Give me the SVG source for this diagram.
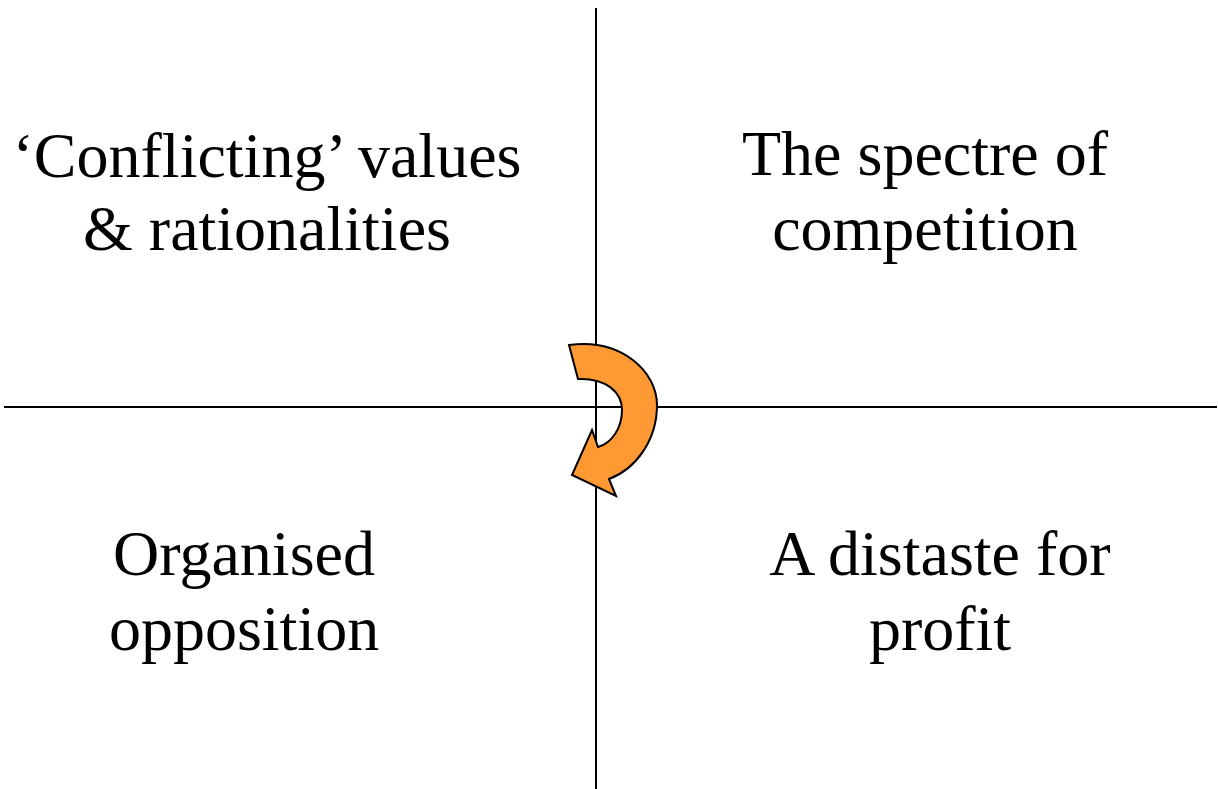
<svg xmlns="http://www.w3.org/2000/svg" width="1218" height="789" viewBox="0 0 1218 789">
<style>
.t{font-family:"Liberation Serif","Times New Roman",serif;font-size:64px;fill:#000;text-anchor:middle}
.ax{stroke:#000;stroke-width:2;fill:none}
</style>
<rect width="1218" height="789" fill="#fff"/>
<g id="connectors">
<line class="ax" x1="596" y1="8" x2="596" y2="789"/>
<line class="ax" x1="4" y1="407" x2="1217" y2="407"/>
</g>
<g id="cycle-arrow">
<path d="M569,345 C622,338 657,372 657,405 C657,440 636,469 609,479 L616,496 L572,475 L592,430 L598,447 C612,443 622,428 622,410 C622,392 606,378 578,379 Z" fill="#FF9933" stroke="#000" stroke-width="2" stroke-linejoin="miter"/>
</g>
<g id="q1"><text class="t" x="267" y="177">‘Conflicting’ values</text><text class="t" x="267" y="250">&amp; rationalities</text></g>
<g id="q2"><text class="t" x="925" y="175">The spectre of</text><text class="t" x="925" y="250">competition</text></g>
<g id="q3"><text class="t" x="244" y="575">Organised</text><text class="t" x="244" y="650">opposition</text></g>
<g id="q4"><text class="t" x="940" y="575">A distaste for</text><text class="t" x="940" y="650">profit</text></g>
</svg>
